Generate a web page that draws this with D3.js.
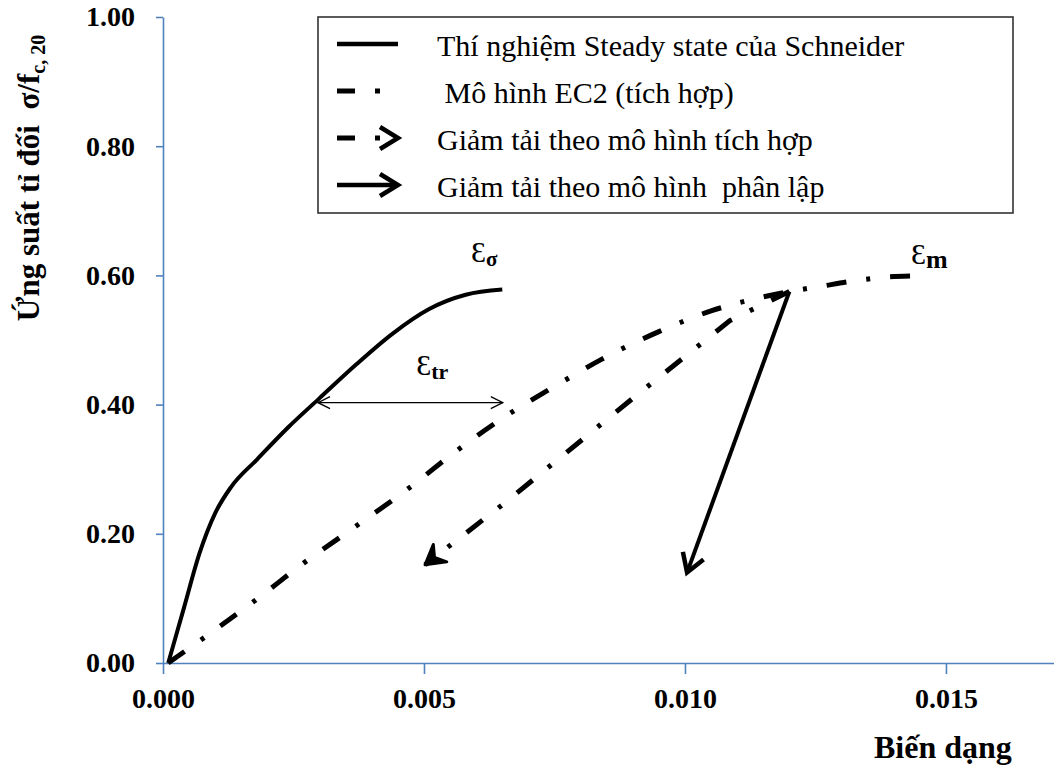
<!DOCTYPE html>
<html lang="vi">
<head>
<meta charset="utf-8">
<title>Ung suat - bien dang</title>
<script src="https://d3js.org/d3.v7.min.js"></script>
<style>
  body { margin: 0; background: #fff; }
  text { font-family: "Liberation Serif", "Times New Roman", serif; fill: #000; }
</style>
</head>
<body>
<script>
// data
var xTicks = [0, 0.005, 0.010, 0.015];
var yTicks = [0, 0.2, 0.4, 0.6, 0.8, 1.0];

var schneider = [[0.0001, 0], [0.0004, 0.085], [0.0007, 0.17], [0.0010, 0.232], [0.0013, 0.272],
  [0.0018, 0.315], [0.0024, 0.365], [0.0030, 0.41], [0.0037, 0.462], [0.0044, 0.51],
  [0.0051, 0.548], [0.0058, 0.570], [0.0065, 0.578]];

var ec2 = [[0.0001, 0], [0.0008, 0.040], [0.0018, 0.099], [0.0027, 0.155], [0.0037, 0.212],
  [0.0047, 0.270], [0.0056, 0.327], [0.0066, 0.384], [0.0075, 0.428], [0.0084, 0.470],
  [0.0095, 0.513], [0.0105, 0.545], [0.0113, 0.563], [0.0120, 0.575], [0.0126, 0.583],
  [0.0132, 0.591], [0.0138, 0.597], [0.01437, 0.599]];

var unloadIntegrated = [[0.0120, 0.575], [0.01086, 0.530], [0.00908, 0.415], [0.00655, 0.248], [0.00502, 0.152]];
var unloadSeparate = [[0.0120, 0.575], [0.01004, 0.140]];
var trSpan = [[0.00297, 0.403], [0.00651, 0.403]];

var legendLabels = ["Thí nghiệm Steady state của Schneider", " Mô hình EC2 (tích hợp)",
  "Giảm tải theo mô hình tích hợp", "Giảm tải theo mô hình  phân lập"];

var W = 1054, H = 768;
var margin = {left: 163, top: 17, right: 0, bottom: 105};
var axisColor = "#4f81bd";

var svg = d3.select("body").append("svg")
  .attr("width", W).attr("height", H);

var x = d3.scaleLinear().domain([0, 0.01707]).range([margin.left, W]);
var y = d3.scaleLinear().domain([0, 1]).range([H - margin.bottom, margin.top]);

var defs = svg.append("defs");
// thin open arrow (epsilon tr)
defs.append("marker").attr("id", "thin")
  .attr("viewBox", "0 0 14 14").attr("refX", 13).attr("refY", 7)
  .attr("markerWidth", 14).attr("markerHeight", 14)
  .attr("markerUnits", "userSpaceOnUse").attr("orient", "auto-start-reverse")
  .append("path").attr("d", "M1,1 L13,7 L1,13")
  .attr("fill", "none").attr("stroke", "#000").attr("stroke-width", 1.3);
// open thick chevron
defs.append("marker").attr("id", "chev")
  .attr("viewBox", "0 0 28 28").attr("refX", 22).attr("refY", 14)
  .attr("markerWidth", 28).attr("markerHeight", 28)
  .attr("markerUnits", "userSpaceOnUse").attr("orient", "auto")
  .append("path").attr("d", "M4,3 L22,14 L4,25")
  .attr("fill", "none").attr("stroke", "#000").attr("stroke-width", 4.5)
  .attr("stroke-linejoin", "miter");
// filled notched head for the dash-dot unloading
defs.append("marker").attr("id", "fat")
  .attr("viewBox", "0 0 28 28").attr("refX", 23).attr("refY", 14)
  .attr("markerWidth", 28).attr("markerHeight", 28)
  .attr("markerUnits", "userSpaceOnUse").attr("orient", "auto")
  .append("path").attr("d", "M4,3 L23,14 L4,25 L11,14 Z")
  .attr("fill", "#000").attr("stroke", "#000").attr("stroke-width", 3)
  .attr("stroke-linejoin", "round");

// axes
svg.append("g")
  .attr("transform", "translate(0," + y(0) + ")")
  .call(d3.axisBottom(x).tickValues(xTicks).tickFormat(d3.format(".3f"))
    .tickSize(11).tickSizeOuter(0).tickPadding(14));
svg.append("g")
  .attr("transform", "translate(" + x(0) + ",0)")
  .call(d3.axisLeft(y).tickValues(yTicks).tickFormat(d3.format(".2f"))
    .tickSize(7).tickSizeOuter(0).tickPadding(21));

svg.selectAll(".domain, .tick line")
  .attr("stroke", axisColor).attr("stroke-width", 1.6);
svg.selectAll(".tick text")
  .attr("font-weight", "bold").attr("font-size", 28).attr("fill", "#000");

var line = d3.line().x(function(d){ return x(d[0]); }).y(function(d){ return y(d[1]); });

svg.append("path")
  .attr("d", line.curve(d3.curveMonotoneX)(schneider))
  .attr("fill", "none").attr("stroke", "#000").attr("stroke-width", 4);

svg.append("path")
  .attr("d", line.curve(d3.curveMonotoneX)(ec2))
  .attr("fill", "none").attr("stroke", "#000").attr("stroke-width", 5)
  .attr("stroke-dasharray", "20,20,4,20");

svg.append("path")
  .attr("d", line.curve(d3.curveLinear)(unloadIntegrated))
  .attr("fill", "none").attr("stroke", "#000").attr("stroke-width", 5)
  .attr("stroke-dasharray", "20,20,4,20").attr("marker-end", "url(#fat)");

svg.append("path")
  .attr("d", line.curve(d3.curveLinear)(unloadSeparate))
  .attr("fill", "none").attr("stroke", "#000").attr("stroke-width", 4)
  .attr("marker-end", "url(#chev)");

svg.append("path")
  .attr("d", line.curve(d3.curveLinear)(trSpan))
  .attr("fill", "none").attr("stroke", "#000").attr("stroke-width", 1.3)
  .attr("marker-start", "url(#thin)").attr("marker-end", "url(#thin)");

// epsilon labels
function epsLabel(px, py, sub, subSize) {
  var t = svg.append("text").attr("x", x(px)).attr("y", y(py));
  t.append("tspan").attr("font-size", 30).text("Ɛ");
  t.append("tspan").attr("font-size", subSize).attr("font-weight", "bold")
    .attr("dy", 4).text(sub);
}
epsLabel(0.00590, 0.620, "σ", 21);
epsLabel(0.01433, 0.617, "m", 26);
epsLabel(0.00485, 0.4465, "tr", 22);

// axis titles
svg.append("text").attr("x", 874).attr("y", 758)
  .attr("font-size", 32).attr("font-weight", "bold").text("Biến dạng");

var yl = svg.append("text")
  .attr("transform", "translate(39,178) rotate(-90)")
  .attr("text-anchor", "middle").attr("font-size", 31).attr("font-weight", "bold")
  .style("white-space", "pre");
yl.append("tspan").text("Ứng suất tỉ đối  σ/f");
yl.append("tspan").attr("font-size", 20).attr("dy", 6).text("c, 20");

// legend
var lg = svg.append("g");
lg.append("rect").attr("x", 318).attr("y", 17).attr("width", 695).attr("height", 196)
  .attr("fill", "#fff").attr("stroke", "#333").attr("stroke-width", 1.6);

var rowY = [56, 103, 150, 197];
legendLabels.forEach(function(lab, i) {
  var sy = rowY[i] - 12;
  var s = lg.append("line").attr("x1", 337).attr("x2", 398)
    .attr("y1", sy).attr("y2", sy).attr("stroke", "#000");
  if (i === 0) s.attr("stroke-width", 4.5);
  if (i === 1) s.attr("stroke-width", 5).attr("stroke-dasharray", "18,20,5,40");
  if (i === 2) s.attr("stroke-width", 5).attr("stroke-dasharray", "18,20,5,40").attr("marker-end", "url(#chev)");
  if (i === 3) s.attr("stroke-width", 4.5).attr("marker-end", "url(#chev)");
  lg.append("text").attr("x", 437).attr("y", rowY[i])
    .attr("font-size", 30).style("white-space", "pre").text(lab);
});
</script>
</body>
</html>
